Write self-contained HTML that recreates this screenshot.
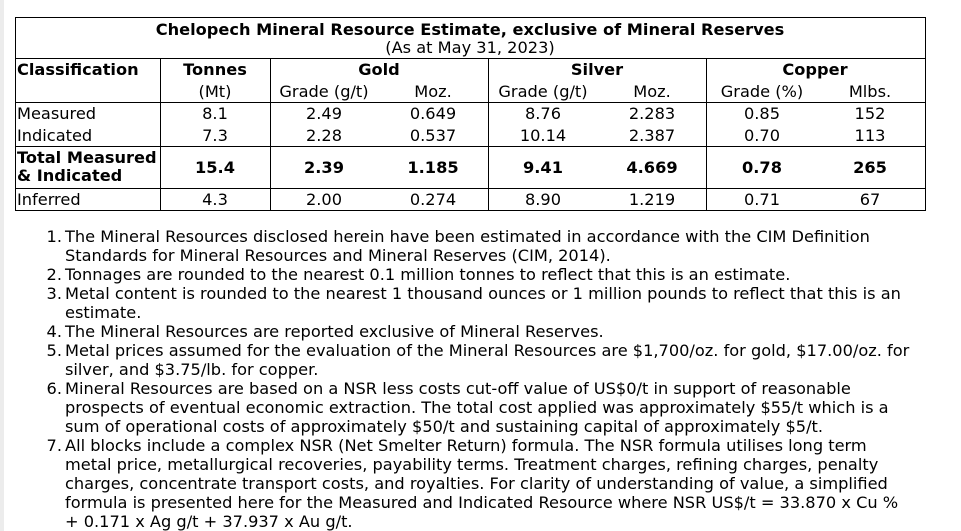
<!DOCTYPE html>
<html><head><meta charset="utf-8"><style>
body{margin:0;width:961px;height:531px;background:#fff;position:relative;overflow:hidden;font-family:"DejaVu Sans","Liberation Sans",sans-serif;font-size:16.2px;color:#000}
.bar{position:absolute;left:0;top:0;width:4px;height:531px;background:#ececec}
.l{position:absolute;background:#000}
.t{position:absolute;white-space:nowrap;line-height:19px}
.c{transform:translateX(-50%)}
b{font-weight:bold}
.n{position:absolute;left:28px;width:34px;text-align:right;white-space:nowrap;line-height:19px}
.x{position:absolute;left:65px;white-space:nowrap;line-height:19px}
</style></head><body>
<div class="bar"></div>
<div class="l" style="left:15px;top:17px;width:911px;height:1px"></div>
<div class="l" style="left:15px;top:58px;width:911px;height:1px"></div>
<div class="l" style="left:15px;top:102px;width:911px;height:1px"></div>
<div class="l" style="left:15px;top:146px;width:911px;height:1px"></div>
<div class="l" style="left:15px;top:188px;width:911px;height:1px"></div>
<div class="l" style="left:15px;top:210px;width:911px;height:1px"></div>
<div class="l" style="left:15px;top:17px;width:1px;height:194px"></div>
<div class="l" style="left:925px;top:17px;width:1px;height:194px"></div>
<div class="l" style="left:160px;top:58px;width:1px;height:153px"></div>
<div class="l" style="left:270px;top:58px;width:1px;height:153px"></div>
<div class="l" style="left:488px;top:58px;width:1px;height:153px"></div>
<div class="l" style="left:706px;top:58px;width:1px;height:153px"></div>

<div class="t c" style="left:470px;top:20px"><b>Chelopech Mineral Resource Estimate, exclusive of Mineral Reserves</b></div>
<div class="t c" style="left:470px;top:38px">(As at May 31, 2023)</div>

<div class="t" style="left:17px;top:60px"><b>Classification</b></div>
<div class="t c" style="left:215px;top:60px"><b>Tonnes</b></div>
<div class="t c" style="left:379px;top:60px"><b>Gold</b></div>
<div class="t c" style="left:597px;top:60px"><b>Silver</b></div>
<div class="t c" style="left:815px;top:60px"><b>Copper</b></div>
<div class="t c" style="left:215px;top:82px">(Mt)</div>
<div class="t c" style="left:324px;top:82px">Grade (g/t)</div>
<div class="t c" style="left:433px;top:82px">Moz.</div>
<div class="t c" style="left:543px;top:82px">Grade (g/t)</div>
<div class="t c" style="left:652px;top:82px">Moz.</div>
<div class="t c" style="left:762px;top:82px">Grade (%)</div>
<div class="t c" style="left:870px;top:82px">Mlbs.</div>

<div class="t" style="left:17px;top:104px">Measured</div>
<div class="t c" style="left:215px;top:104px">8.1</div>
<div class="t c" style="left:324px;top:104px">2.49</div>
<div class="t c" style="left:433px;top:104px">0.649</div>
<div class="t c" style="left:543px;top:104px">8.76</div>
<div class="t c" style="left:652px;top:104px">2.283</div>
<div class="t c" style="left:762px;top:104px">0.85</div>
<div class="t c" style="left:870px;top:104px">152</div>

<div class="t" style="left:17px;top:126px">Indicated</div>
<div class="t c" style="left:215px;top:126px">7.3</div>
<div class="t c" style="left:324px;top:126px">2.28</div>
<div class="t c" style="left:433px;top:126px">0.537</div>
<div class="t c" style="left:543px;top:126px">10.14</div>
<div class="t c" style="left:652px;top:126px">2.387</div>
<div class="t c" style="left:762px;top:126px">0.70</div>
<div class="t c" style="left:870px;top:126px">113</div>

<div class="t" style="left:17px;top:148px"><b>Total Measured</b></div>
<div class="t" style="left:17px;top:166px"><b>&amp; Indicated</b></div>
<div class="t c" style="left:215px;top:158px"><b>15.4</b></div>
<div class="t c" style="left:324px;top:158px"><b>2.39</b></div>
<div class="t c" style="left:433px;top:158px"><b>1.185</b></div>
<div class="t c" style="left:543px;top:158px"><b>9.41</b></div>
<div class="t c" style="left:652px;top:158px"><b>4.669</b></div>
<div class="t c" style="left:762px;top:158px"><b>0.78</b></div>
<div class="t c" style="left:870px;top:158px"><b>265</b></div>

<div class="t" style="left:17px;top:190px">Inferred</div>
<div class="t c" style="left:215px;top:190px">4.3</div>
<div class="t c" style="left:324px;top:190px">2.00</div>
<div class="t c" style="left:433px;top:190px">0.274</div>
<div class="t c" style="left:543px;top:190px">8.90</div>
<div class="t c" style="left:652px;top:190px">1.219</div>
<div class="t c" style="left:762px;top:190px">0.71</div>
<div class="t c" style="left:870px;top:190px">67</div>

<div class="n" style="top:227px">1.</div>
<div class="x" style="top:227px">The Mineral Resources disclosed herein have been estimated in accordance with the CIM Definition</div>
<div class="x" style="top:246px">Standards for Mineral Resources and Mineral Reserves (CIM, 2014).</div>
<div class="n" style="top:265px">2.</div>
<div class="x" style="top:265px">Tonnages are rounded to the nearest 0.1 million tonnes to reflect that this is an estimate.</div>
<div class="n" style="top:284px">3.</div>
<div class="x" style="top:284px">Metal content is rounded to the nearest 1 thousand ounces or 1 million pounds to reflect that this is an</div>
<div class="x" style="top:303px">estimate.</div>
<div class="n" style="top:322px">4.</div>
<div class="x" style="top:322px">The Mineral Resources are reported exclusive of Mineral Reserves.</div>
<div class="n" style="top:341px">5.</div>
<div class="x" style="top:341px">Metal prices assumed for the evaluation of the Mineral Resources are $1,700/oz. for gold, $17.00/oz. for</div>
<div class="x" style="top:360px">silver, and $3.75/lb. for copper.</div>
<div class="n" style="top:379px">6.</div>
<div class="x" style="top:379px">Mineral Resources are based on a NSR less costs cut-off value of US$0/t in support of reasonable</div>
<div class="x" style="top:398px">prospects of eventual economic extraction. The total cost applied was approximately $55/t which is a</div>
<div class="x" style="top:417px">sum of operational costs of approximately $50/t and sustaining capital of approximately $5/t.</div>
<div class="n" style="top:436px">7.</div>
<div class="x" style="top:436px">All blocks include a complex NSR (Net Smelter Return) formula. The NSR formula utilises long term</div>
<div class="x" style="top:455px">metal price, metallurgical recoveries, payability terms. Treatment charges, refining charges, penalty</div>
<div class="x" style="top:474px">charges, concentrate transport costs, and royalties. For clarity of understanding of value, a simplified</div>
<div class="x" style="top:493px">formula is presented here for the Measured and Indicated Resource where NSR US$/t = 33.870 x Cu %</div>
<div class="x" style="top:512px">+ 0.171 x Ag g/t + 37.937 x Au g/t.</div>
</body></html>
